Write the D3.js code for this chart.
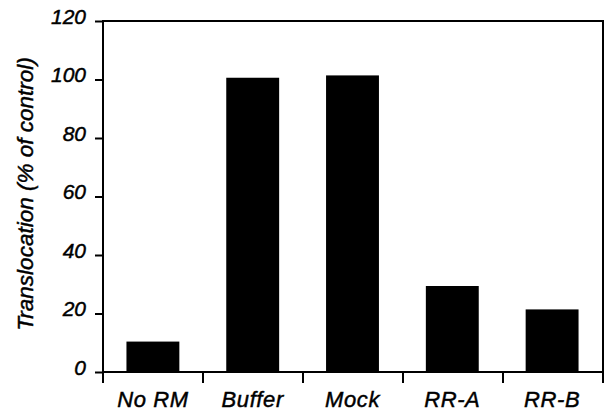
<!DOCTYPE html>
<html>
<head>
<meta charset="utf-8">
<script src="https://cdn.jsdelivr.net/npm/d3@7"></script>
<style>
  body { margin: 0; background: #fff; }
  svg { display: block; }
  text { font-family: "Liberation Sans", Arial, Helvetica, sans-serif; font-style: italic; fill: #000; stroke: #000; stroke-width: 0.45px; }
</style>
</head>
<body>
<script>
// data
var categories = ["No RM", "Buffer", "Mock", "RR-A", "RR-B"];
var values = [10.4, 100.6, 101.4, 29.4, 21.4];
var yTicks = [0, 20, 40, 60, 80, 100, 120];
var yTitle = "Translocation (% of control)";

var w = 605, h = 412;
var mLeft = 103, mRight = 603, mTop = 21, mBottom = 372;

var svg = d3.select("body").append("svg")
    .attr("width", w)
    .attr("height", h);

var x = d3.scaleBand()
    .domain(categories)
    .range([mLeft + 1, mRight])
    .paddingInner(0.47)
    .paddingOuter(0.235);

var y = d3.scaleLinear()
    .domain([0, 120])
    .range([mBottom, mTop]);

// bars
svg.selectAll("rect.bar")
   .data(values)
   .enter()
   .append("rect")
   .attr("class", "bar")
   .attr("x", function(d, i) { return x(categories[i]) - 1; })
   .attr("y", function(d) { return y(d); })
   .attr("width", x.bandwidth())
   .attr("height", function(d) { return mBottom - y(d); })
   .attr("fill", "#000");

// frame
svg.append("rect")
   .attr("x", mLeft)
   .attr("y", mTop)
   .attr("width", mRight - mLeft)
   .attr("height", mBottom - mTop)
   .attr("fill", "none")
   .attr("stroke", "#000")
   .attr("stroke-width", 2);

// y axis
var yAxis = d3.axisLeft(y)
    .tickValues(yTicks)
    .tickSize(8)
    .tickPadding(9)
    .tickFormat(d3.format("d"));

var gy = svg.append("g")
   .attr("transform", "translate(" + mLeft + ",0)")
   .call(yAxis);
gy.select(".domain").remove();
gy.selectAll("line").attr("stroke-width", 2);
gy.selectAll("text")
   .style("font-size", "21px")
   .style("font-style", "italic")
   .attr("dy", "0.1em");

// x axis: ticks at band boundaries
var bounds = d3.range(categories.length + 1).map(function(i) {
  return mLeft + i * (mRight - mLeft) / categories.length;
});
svg.selectAll("line.xt")
   .data(bounds)
   .enter()
   .append("line")
   .attr("class", "xt")
   .attr("x1", function(d) { return d; })
   .attr("x2", function(d) { return d; })
   .attr("y1", mBottom)
   .attr("y2", mBottom + 11)
   .attr("stroke", "#000")
   .attr("stroke-width", 2);

svg.selectAll("text.xl")
   .data(categories)
   .enter()
   .append("text")
   .attr("class", "xl")
   .attr("x", function(d) { return x(d) + x.bandwidth() / 2 - 1; })
   .attr("y", 407)
   .attr("text-anchor", "middle")
   .attr("font-size", "22px")
   .attr("letter-spacing", "0.6px")
   .text(function(d) { return d; });

// y title
svg.append("text")
   .attr("transform", "translate(33,194) rotate(-90)")
   .attr("text-anchor", "middle")
   .attr("font-size", "22.5px")
   .text(yTitle);
</script>
</body>
</html>
